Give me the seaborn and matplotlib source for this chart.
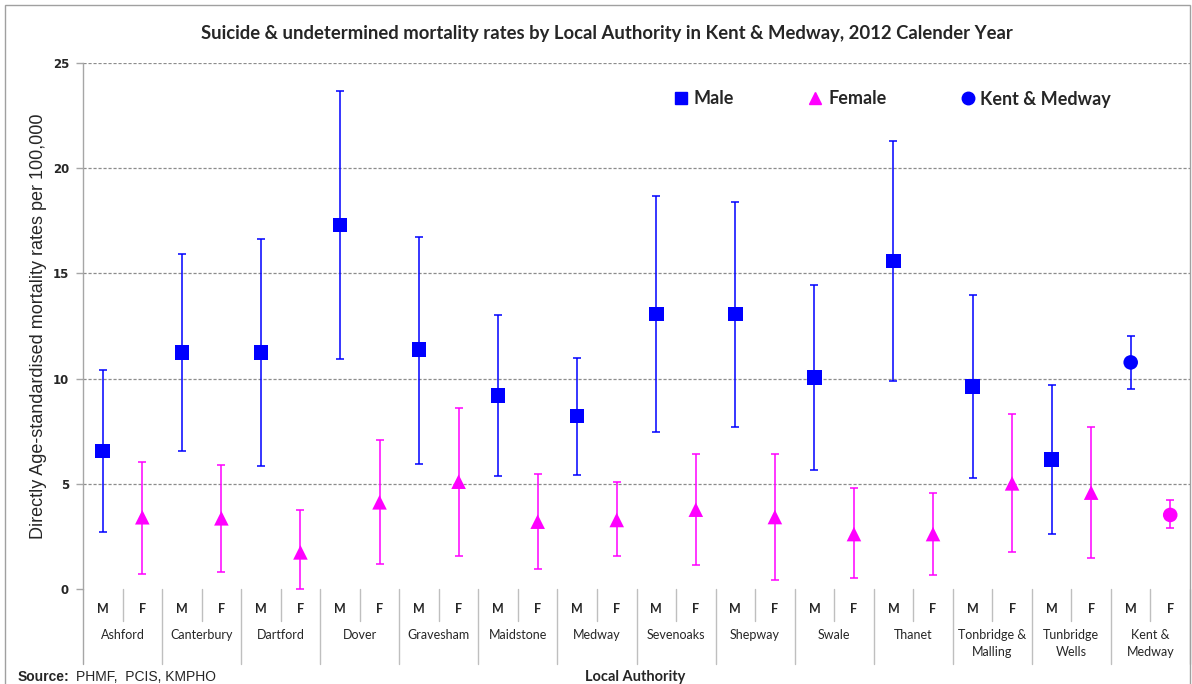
import numpy as np
import pandas as pd
import seaborn as sns
import matplotlib
matplotlib.use("Agg")
import matplotlib.pyplot as plt
from matplotlib.lines import Line2D
from matplotlib.patches import Rectangle
import matplotlib.transforms as mtransforms

# ---- data -------------------------------------------------------------
authorities = ["Ashford", "Canterbury", "Dartford", "Dover", "Gravesham",
               "Maidstone", "Medway", "Sevenoaks", "Shepway", "Swale",
               "Thanet", "Tonbridge &\nMalling", "Tunbridge\nWells",
               "Kent &\nMedway"]

male_rate = [6.56, 11.23, 11.23, 17.31, 11.39, 9.19, 8.22, 13.08, 13.07,
             10.06, 15.58, 9.62, 6.15]
male_lower = [2.72, 6.56, 5.86, 10.92, 5.93, 5.37, 5.43, 7.45, 7.70,
              5.67, 9.89, 5.26, 2.60]
male_upper = [10.40, 15.91, 16.62, 23.65, 16.74, 13.00, 11.00, 18.68, 18.38,
              14.43, 21.31, 13.96, 9.70]

female_rate = [3.41, 3.36, 1.74, 4.12, 5.10, 3.20, 3.28, 3.77, 3.42,
               2.61, 2.61, 5.02, 4.58]
female_lower = [0.70, 0.79, 0.00, 1.17, 1.55, 0.94, 1.55, 1.13, 0.41,
                0.51, 0.65, 1.74, 1.46]
female_upper = [6.02, 5.89, 3.74, 7.08, 8.62, 5.47, 5.09, 6.42, 6.42,
                4.79, 4.56, 8.30, 7.70]

km_male = [10.77, 9.49, 12.02]     # rate, lower, upper
km_female = [3.52, 2.88, 4.22]

sex_labels = ["M", "F"]
y_ticks = [0, 5, 10, 15, 20, 25]

BLUE = "#0000FF"
MAGENTA = "#FF00FF"
GRID = "#8C8C8C"
AXIS = "#A6A6A6"

# ---- tidy table --------------------------------------------------------
rows = []
for i, name in enumerate(authorities[:-1]):
    rows.append(dict(pos=2 * i, rate=male_rate[i], lo=male_lower[i],
                     hi=male_upper[i], series="Male"))
    rows.append(dict(pos=2 * i + 1, rate=female_rate[i], lo=female_lower[i],
                     hi=female_upper[i], series="Female"))
n = len(authorities) - 1
rows.append(dict(pos=2 * n, rate=km_male[0], lo=km_male[1], hi=km_male[2],
                 series="KM Male"))
rows.append(dict(pos=2 * n + 1, rate=km_female[0], lo=km_female[1],
                 hi=km_female[2], series="KM Female"))
df = pd.DataFrame(rows)

colors = {"Male": BLUE, "Female": MAGENTA, "KM Male": BLUE, "KM Female": MAGENTA}
markers = {"Male": "s", "Female": "^", "KM Male": "o", "KM Female": "o"}

# ---- figure ------------------------------------------------------------
sns.set_theme(style="white")
plt.rcParams["font.family"] = ["Lato", "DejaVu Sans"]

W, H = 1192, 684
fig = plt.figure(figsize=(W / 100, H / 100), dpi=100)
ax_left, ax_right, ax_top, ax_bot = 83, 1190, 63, 589
ax = fig.add_axes([ax_left / W, 1 - ax_bot / H,
                   (ax_right - ax_left) / W, (ax_bot - ax_top) / H])

# confidence intervals
for s, sub in df.groupby("series"):
    ax.errorbar(sub["pos"], sub["rate"],
                yerr=[sub["rate"] - sub["lo"], sub["hi"] - sub["rate"]],
                fmt="none", ecolor=colors[s], elinewidth=1.1, capsize=3,
                capthick=1.1, zorder=2)

# point estimates
sns.scatterplot(data=df, x="pos", y="rate", hue="series", style="series",
                palette=colors, markers=markers, s=110, linewidth=0,
                legend=False, ax=ax, zorder=3)

ax.set_xlim(-0.5, 2 * len(authorities) - 0.5)
ax.set_ylim(0, 25)
ax.set_yticks(y_ticks)
ax.set_yticklabels([str(t) for t in y_ticks], fontsize=8.5, fontweight="bold",
                   family="DejaVu Sans")
ax.set_xticks([])
ax.set_xlabel("")
ax.set_ylabel("Directly Age-standardised mortality rates per 100,000",
              fontsize=13, family="Liberation Sans", labelpad=4)

for y in y_ticks[1:]:
    ax.axhline(y, color=GRID, lw=0.9, ls=(0, (2.5, 1.5)), zorder=0)

for side in ["top", "right", "bottom"]:
    ax.spines[side].set_visible(False)
ax.spines["left"].set_color(AXIS)
ax.spines["left"].set_linewidth(1)
ax.tick_params(axis="y", direction="out", length=5, width=1, color=AXIS,
               pad=5, left=True)

# ---- category table under the axis ------------------------------------
trans = mtransforms.blended_transform_factory(ax.transData, ax.transAxes)
ph = ax_bot - ax_top


def yfrac(py):
    return (ax_bot - py) / ph


for g in range(len(authorities)):
    for k, lab in enumerate(sex_labels):
        ax.text(2 * g + k, yfrac(609), lab, transform=trans, ha="center",
                va="center", fontsize=9, fontweight="bold")
    ax.text(2 * g + 0.5, yfrac(629), authorities[g], transform=trans,
            ha="center", va="top", fontsize=9, linespacing=1.45)
    ax.plot([2 * g + 0.5] * 2, [yfrac(589), yfrac(621)], transform=trans,
            color="#BFBFBF", lw=1, clip_on=False)
    ax.plot([2 * g + 1.5] * 2, [yfrac(589), yfrac(664)], transform=trans,
            color="#BFBFBF", lw=1, clip_on=False)
ax.plot([-0.5] * 2, [yfrac(589), yfrac(664)], transform=trans,
        color=AXIS, lw=1, clip_on=False)

# ---- legend ------------------------------------------------------------
handles = [
    Line2D([], [], ls="none", marker="s", color=BLUE, markersize=8),
    Line2D([], [], ls="none", marker="^", color=MAGENTA, markersize=9),
    Line2D([], [], ls="none", marker="o", color=BLUE, markersize=9),
]
fig.legend(handles, ["Male", "Female", "Kent & Medway"], ncol=3,
           loc="center left", bbox_to_anchor=(674 / W, 1 - 99 / H),
           frameon=False, borderpad=0, borderaxespad=0, handlelength=0.8,
           handletextpad=0.3, columnspacing=4.1,
           prop=dict(size=13, weight="bold"))

# ---- titles and notes --------------------------------------------------
fig.text(607 / W, 1 - 34 / H,
         "Suicide & undetermined mortality rates by Local Authority in "
         "Kent & Medway, 2012 Calender Year",
         ha="center", va="center", fontsize=13.3, fontweight="bold")
fig.text(635 / W, 1 - 677 / H, "Local Authority", ha="center", va="center",
         fontsize=10.5, fontweight="bold")
fig.text(18 / W, 1 - 677 / H, "Source:", ha="left", va="center",
         fontsize=10, fontweight="bold", family="Liberation Sans")
fig.text(76 / W, 1 - 677 / H, "PHMF,  PCIS, KMPHO", ha="left", va="center",
         fontsize=10, family="Liberation Sans")

# outer frame
fig.patches.append(Rectangle((4.5 / W, -0.05), (1190 - 4.5) / W,
                             1.05 - 5 / H, transform=fig.transFigure,
                             fill=False, edgecolor="#A0A0A0", lw=1))

fig.savefig("out.png", dpi=100)
